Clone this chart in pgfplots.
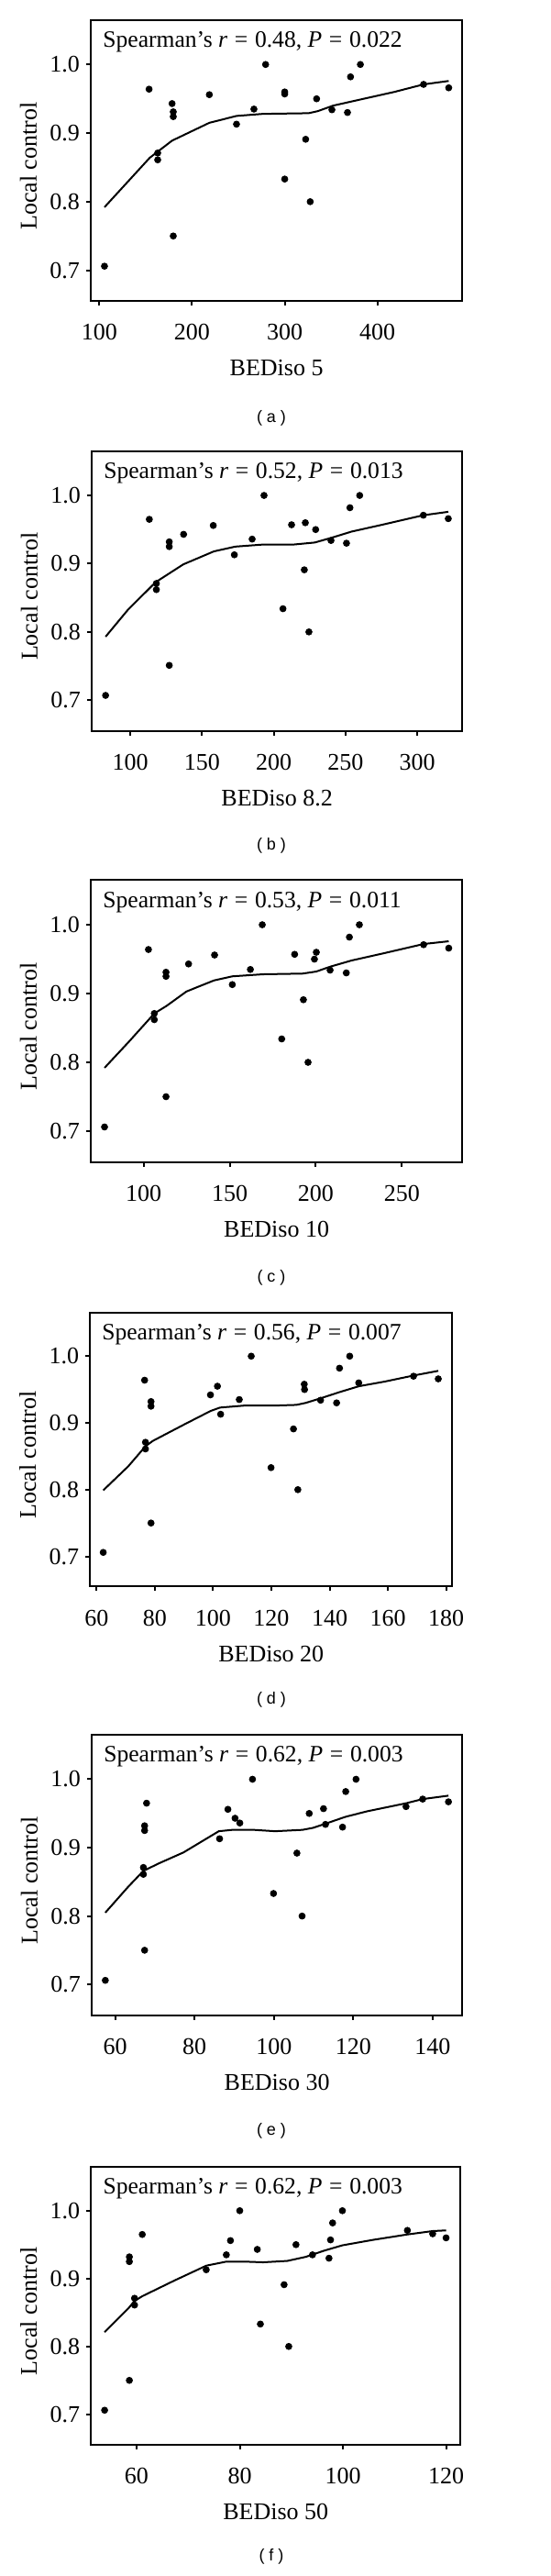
\documentclass[border=0pt]{standalone}
\usepackage{fontspec}
\setmainfont{Liberation Serif}
\newfontfamily\capfont{Liberation Sans}
\usepackage{pgfplots}
\pgfplotsset{compat=1.18}

\pgfplotsset{
  lcpanel/.style={
    scale only axis,
    anchor=south west,
    axis line style={line width=1.1pt},
    tick style={line width=1pt, black},
    tick align=outside,
    major tick length=2.5pt,
    xtick pos=left, ytick pos=left,
    ymin=0.655, ymax=1.065,
    ytick={0.7,0.8,0.9,1.0},
    /pgf/number format/assume math mode=true,
    tick label style={font=\fontsize{13}{15}\selectfont},
    xticklabel style={inner sep=0pt, anchor=north, yshift=-10pt},
    y tick label style={/pgf/number format/fixed, /pgf/number format/fixed zerofill, /pgf/number format/precision=1},
    xlabel style={font=\fontsize{13}{15}\selectfont, at={(axis description cs:0.5,0)}, anchor=base, yshift=-40.85pt, inner sep=0pt},
    ylabel={Local control},
    ylabel style={font=\fontsize{13}{15}\selectfont, at={(axis description cs:0,0.48)}, anchor=center, yshift=34pt, inner sep=0pt},
  },
  pts/.style={only marks, mark=*, mark size=1.7pt, black},
  fit/.style={black, line width=1pt, no marks},
}
\newcommand{\spear}[2]{\node[anchor=base west, inner sep=0pt, font=\fontsize{12.8}{15}\selectfont]
  at (rel axis cs:0.032,0.902) {Spearman’s \textit{r}\hspace{0.3em}=\hspace{0.3em}#1, \textit{P}\hspace{0.3em}=\hspace{0.3em}#2};}

\begin{document}
\begin{tikzpicture}
\useasboundingbox (0,0) rectangle (300pt,-1404pt);

% (a) BEDiso 5
\begin{axis}[lcpanel, at={(49.5pt,-164.15pt)}, width=202.65pt, height=153.3pt,
  xmin=90.8, xmax=491.6, xtick={100,200,300,400}, xlabel={BEDiso 5}]
\addplot[pts] table {
x y
105.6 0.706
153.7 0.964
163.0 0.871
163.0 0.861
178.5 0.943
179.8 0.931
179.8 0.924
179.8 0.750
218.7 0.956
248.0 0.913
266.8 0.935
279.4 1.000
300.0 0.960
300.0 0.957
300.0 0.833
322.6 0.891
327.5 0.800
334.4 0.950
350.9 0.934
367.7 0.930
371.0 0.982
381.6 1.000
449.8 0.971
476.9 0.966
};
\addplot[fit] table {
x y
105.6 0.792
154.4 0.864
178.5 0.889
218.7 0.915
248.0 0.925
276.4 0.928
325.8 0.929
335.7 0.932
352.1 0.940
381.8 0.949
418.2 0.960
449.8 0.971
476.9 0.976
};
\spear{0.48}{0.022}
\end{axis}

% (b) BEDiso 8.2
\begin{axis}[lcpanel, at={(50pt,-398.35pt)}, width=202.15pt, height=152.5pt,
  xmin=73.0, xmax=331.5, xtick={100,150,200,250,300}, xlabel={BEDiso 8.2}]
\addplot[pts] table {
x y
82.7 0.707
113.2 0.965
118.1 0.871
118.1 0.862
127.1 0.932
127.1 0.925
127.1 0.751
137.1 0.943
157.8 0.956
172.5 0.913
184.9 0.936
193.2 1.000
206.4 0.834
212.4 0.957
221.3 0.891
222.0 0.960
224.5 0.800
229.2 0.950
239.9 0.934
250.7 0.930
253.1 0.982
259.9 1.000
304.3 0.971
321.7 0.966
};
\addplot[fit] table {
x y
82.7 0.793
98.5 0.833
117.7 0.873
127.3 0.886
136.9 0.899
158.2 0.918
173.1 0.925
192.3 0.928
213.6 0.928
228.6 0.931
240.3 0.938
254.2 0.947
275.5 0.957
304.3 0.971
321.7 0.976
};
\spear{0.52}{0.013}
\end{axis}

% (c) BEDiso 10
\begin{axis}[lcpanel, at={(49.5pt,-633.35pt)}, width=202.65pt, height=153.7pt,
  xmin=69.3, xmax=285.1, xtick={100,150,200,250}, xlabel={BEDiso 10}]
\addplot[pts] table {
x y
77.3 0.706
102.8 0.964
106.2 0.871
106.2 0.862
113.0 0.931
113.0 0.925
113.0 0.750
126.1 0.943
141.2 0.956
151.5 0.913
162.0 0.935
168.9 1.000
180.2 0.834
187.7 0.957
192.8 0.891
195.5 0.800
199.2 0.950
200.3 0.960
208.3 0.934
217.7 0.930
219.5 0.982
225.3 1.000
262.6 0.971
277.2 0.966
};
\addplot[fit] table {
x y
77.3 0.792
91.1 0.829
106.2 0.871
113.3 0.882
124.9 0.903
140.8 0.919
151.5 0.925
169.2 0.928
192.3 0.929
200.3 0.932
208.3 0.939
220.7 0.948
238.5 0.958
262.6 0.972
277.2 0.976
};
\spear{0.53}{0.011}
\end{axis}

% (d) BEDiso 20
\begin{axis}[lcpanel, at={(49.15pt,-864.65pt)}, width=197.5pt, height=149.15pt,
  xmin=57.8, xmax=182.1, xtick={60,80,...,180}, xlabel={BEDiso 20}]
\addplot[pts] table {
x y
62.3 0.706
76.5 0.964
76.8 0.871
76.8 0.861
78.7 0.932
78.7 0.925
78.7 0.750
99.1 0.942
101.5 0.955
102.6 0.913
109.0 0.935
113.1 1.000
119.9 0.833
127.6 0.891
129.1 0.800
131.3 0.958
131.4 0.950
136.9 0.934
142.4 0.930
143.4 0.982
146.9 1.000
150.0 0.960
168.8 0.970
177.3 0.966
};
\addplot[fit] table {
x y
62.3 0.799
70.9 0.835
76.8 0.865
79.3 0.873
89.8 0.897
99.2 0.918
102.4 0.923
110.8 0.926
121.3 0.926
128.6 0.927
131.8 0.930
137.0 0.937
143.3 0.946
150.1 0.955
159.0 0.962
168.8 0.971
177.3 0.978
};
\spear{0.56}{0.007}
\end{axis}

% (e) BEDiso 30
\begin{axis}[lcpanel, at={(50pt,-1098.35pt)}, width=202.15pt, height=152.85pt,
  xmin=54.06, xmax=147.5, xtick={60,80,...,140}, xlabel={BEDiso 30}]
\addplot[pts] table {
x y
57.5 0.706
67.9 0.965
67.1 0.871
67.1 0.861
67.4 0.932
67.4 0.925
67.4 0.750
86.3 0.913
88.4 0.956
90.2 0.943
91.4 0.936
94.6 1.000
99.9 0.833
105.8 0.892
107.1 0.800
108.9 0.950
112.5 0.957
113.0 0.934
117.3 0.930
118.1 0.982
120.7 1.000
133.3 0.960
137.5 0.971
144.0 0.967
};
\addplot[fit] table {
x y
57.5 0.805
63.3 0.843
67.1 0.866
71.0 0.877
77.2 0.893
86.1 0.924
89.5 0.926
94.9 0.926
100.3 0.924
107.2 0.926
109.9 0.929
113.0 0.935
118.0 0.945
123.4 0.953
133.4 0.965
137.5 0.971
144.0 0.976
};
\spear{0.62}{0.003}
\end{axis}

% (f) BEDiso 50
\begin{axis}[lcpanel, at={(49.65pt,-1332.5pt)}, width=201.5pt, height=151.65pt,
  xmin=51.17, xmax=122.8, xtick={60,80,100,120}, xlabel={BEDiso 50}]
\addplot[pts] table {
x y
53.8 0.706
58.6 0.932
58.6 0.925
58.6 0.750
59.6 0.871
59.6 0.861
61.1 0.965
73.5 0.913
77.4 0.935
78.2 0.956
80.0 1.000
83.4 0.943
84.0 0.833
88.6 0.891
89.5 0.800
90.9 0.950
94.1 0.935
97.3 0.930
97.6 0.957
98.0 0.982
99.9 1.000
112.5 0.971
117.4 0.966
120.0 0.960
};
\addplot[fit] table {
x y
53.8 0.821
58.4 0.856
59.6 0.867
61.1 0.874
67.3 0.897
73.5 0.919
77.4 0.925
80.9 0.925
84.5 0.924
89.2 0.926
92.8 0.932
96.3 0.941
99.9 0.949
105.8 0.957
112.5 0.965
117.4 0.970
120.0 0.971
};
\spear{0.62}{0.003}
\end{axis}

% panel captions
\begin{scope}[every node/.style={font=\capfont\fontsize{9}{11}\selectfont, inner sep=0pt}]
\node at (148pt,-228pt) {( a )};
\node at (148pt,-460.85pt) {( b )};
\node at (148pt,-696.65pt) {( c )};
\node at (148pt,-926.65pt) {( d )};
\node at (148pt,-1161.65pt) {( e )};
\node at (148pt,-1393.35pt) {( f )};
\end{scope}
\end{tikzpicture}
\end{document}
